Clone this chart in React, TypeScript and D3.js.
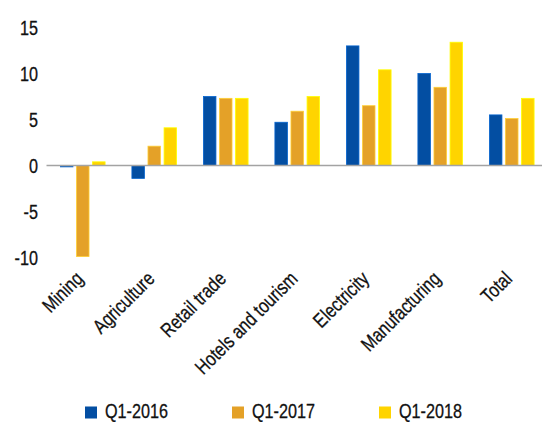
import React from "react";
import * as d3 from "d3";

const categories = ["Mining", "Agriculture", "Retail trade", "Hotels and tourism", "Electricity", "Manufacturing", "Total"];
const seriesNames = ["Q1-2016", "Q1-2017", "Q1-2018"];
const q2016 = [-0.15, -1.4, 7.5, 4.7, 13.0, 10.0, 5.5];
const q2017 = [-9.9, 2.1, 7.3, 5.9, 6.5, 8.5, 5.1];
const q2018 = [0.4, 4.1, 7.3, 7.5, 10.4, 13.4, 7.3];
const yTicks = [-10, -5, 0, 5, 10, 15];
const colors = ["#034EA2", "#E4A128", "#FFD400"];

const FONT = "'Liberation Sans', Arial, sans-serif";
const SX = 0.81;

export default function App() {
  const W = 542, H = 422;
  const series = [q2016, q2017, q2018];
  const y = d3.scaleLinear().domain([-10, 15]).range([257.5, 27.5]);
  const x0 = d3.scaleBand<string>().domain(categories).range([47, 547.5]).paddingInner(0.375).paddingOuter(0.1875);
  const x1 = d3.scaleBand<string>().domain(seriesNames).range([0, x0.bandwidth()]).paddingInner(0.22);
  const xLeg = d3.scalePoint<string>().domain(seriesNames).range([85, 379]);
  const textStyle = { stroke: "#111", strokeWidth: 0.3 };

  return (
    <svg width={W} height={H} style={{ position: "absolute", left: 0, top: 0, background: "#fff" }} fontFamily={FONT}>
      {categories.map((c, i) => (
        <g key={c} transform={`translate(${x0(c)},0)`}>
          {seriesNames.map((s, j) => {
            const v = series[j][i];
            const col = colors[j];
            return (
              <rect
                key={s}
                x={x1(s)}
                y={y(Math.max(0, v))}
                width={x1.bandwidth()}
                height={Math.abs(y(v) - y(0))}
                fill={col}
                stroke={d3.color(col)!.brighter(0.7).formatHex()}
                strokeWidth={0.8}
              />
            );
          })}
        </g>
      ))}
      <line x1={46.5} x2={W} y1={y(0)} y2={y(0)} stroke="#a3a3a3" strokeWidth={1.5} />
      {yTicks.map((t) => (
        <text key={t} transform={`translate(38,${y(t)}) scale(${SX},1)`} dy="0.36em" textAnchor="end" fontSize={20} fill="#111" style={textStyle}>
          {t}
        </text>
      ))}
      {categories.map((c) => (
        <text
          key={c}
          transform={`translate(${(x0(c) as number) + x0.bandwidth() / 2 + 1.5},280) rotate(-45) scale(${SX},1)`}
          textAnchor="end"
          fontSize={20}
          fill="#111"
          style={textStyle}
        >
          {c}
        </text>
      ))}
      {seriesNames.map((s, j) => (
        <g key={s} transform={`translate(${xLeg(s)},0)`}>
          <rect x={0} y={406.5} width={12} height={12} fill={colors[j]} />
          <text transform={`translate(20,417.5) scale(${SX},1)`} fontSize={20} fill="#111" style={textStyle}>
            {s}
          </text>
        </g>
      ))}
    </svg>
  );
}
